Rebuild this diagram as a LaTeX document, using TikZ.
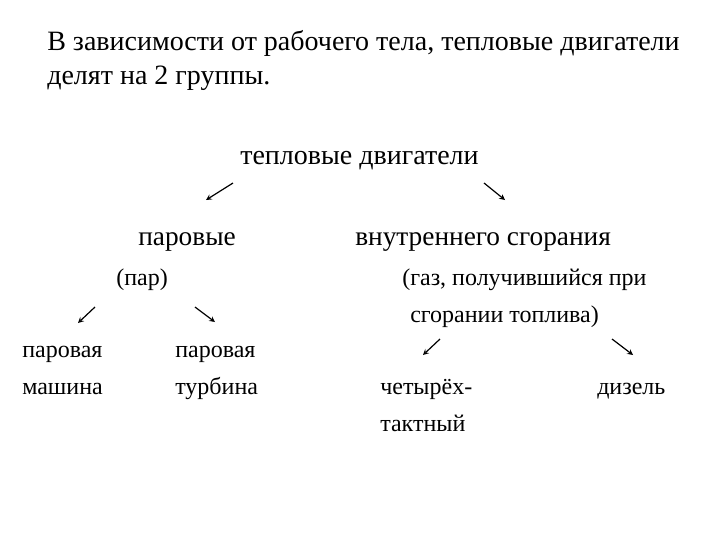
\documentclass[tikz,border=0pt]{standalone}
\usepackage{fontspec}
\setmainfont{Liberation Serif}
\newfontfamily\tnr{Liberation Serif}
\begin{document}
\begin{tikzpicture}[x=0.75pt,y=-0.75pt,
  big/.style={anchor=base west,inner sep=0pt,font=\tnr\fontsize{21}{25}\selectfont},
  mid/.style={anchor=base west,inner sep=0pt,font=\tnr\fontsize{20.5}{24}\selectfont},
  sml/.style={anchor=base west,inner sep=0pt,font=\tnr\fontsize{18}{22}\selectfont},
  arr/.style={-stealth,line width=0.9pt}]
\useasboundingbox (0,0) rectangle (720,540);
\node[big] (t1) at (47,50) {В зависимости от рабочего тела, тепловые двигатели};
\node[big] (t2) at (47,84) {делят на 2 группы.};
\node[big] (root) at (240,164) {тепловые двигатели};
\coordinate (a1s) at (233,183); \coordinate (a1e) at (206,200);
\coordinate (a2s) at (484,183); \coordinate (a2e) at (505,200);
\draw[arr] (a1s) -- (a1e); \draw[arr] (a2s) -- (a2e);
\node[mid] (par) at (138,245) {паровые};
\node[mid] (vn) at (355,245) {внутреннего сгорания};
\node[sml] (pp) at (116,285) {(пар)};
\node[sml] (gz1) at (402,285) {(газ, получившийся при};
\node[sml] (gz2) at (410,322) {сгорании топлива)};
\coordinate (b1s) at (95,307); \coordinate (b1e) at (78,323);
\coordinate (b2s) at (195,307); \coordinate (b2e) at (215,322);
\coordinate (b3s) at (440,339); \coordinate (b3e) at (423,355);
\coordinate (b4s) at (612,339); \coordinate (b4e) at (633,355);
\draw[arr] (b1s) -- (b1e); \draw[arr] (b2s) -- (b2e);
\draw[arr] (b3s) -- (b3e); \draw[arr] (b4s) -- (b4e);
\node[sml] (m1) at (22,357) {паровая};
\node[sml] (m2) at (22,394) {машина};
\node[sml] (tu1) at (175,357) {паровая};
\node[sml] (tu2) at (175,394) {турбина};
\node[sml] (c1) at (380,394) {четырёх-};
\node[sml] (c2) at (380,431) {тактный};
\node[sml] (d) at (597,394) {дизель};
\end{tikzpicture}
\end{document}
